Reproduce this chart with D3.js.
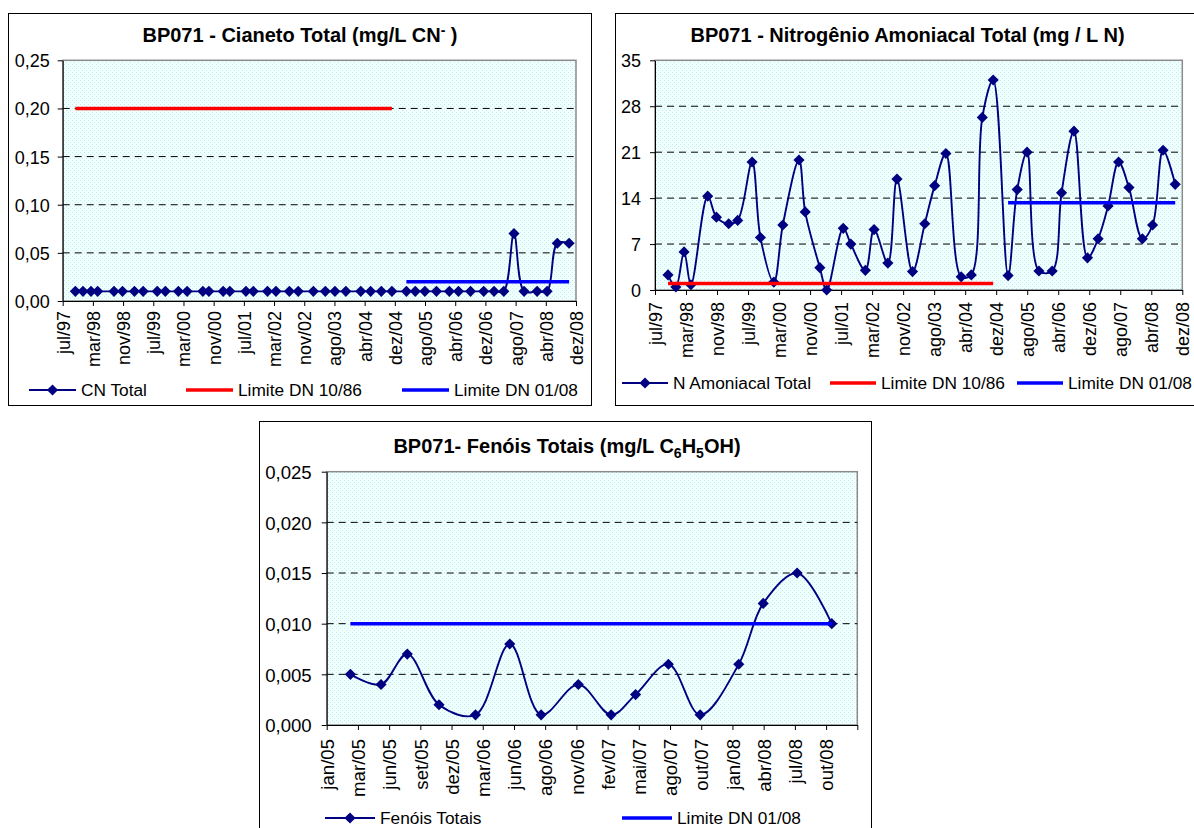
<!DOCTYPE html>
<html>
<head>
<meta charset="utf-8">
<script src="https://cdn.jsdelivr.net/npm/d3@7/dist/d3.min.js"></script>
<style>
  body { margin: 0; background: #ffffff; }
  svg { display: block; font-family: "Liberation Sans", Arial, sans-serif; }
</style>
</head>
<body>
<svg id="chart" width="1194" height="828"></svg>
<script>
"use strict";

/********/
/* data */
/********/

// sampling campaigns at BP071 (CN and N amoniacal share the dates)
const sampleDates = [
  "1997-10-12", "1997-12-13", "1998-02-16", "1998-04-11", "1998-08-22",
  "1998-10-30", "1999-02-04", "1999-04-16", "1999-08-08", "1999-10-13",
  "2000-01-27", "2000-04-07", "2000-08-13", "2000-10-01", "2001-01-25",
  "2001-03-20", "2001-07-29", "2001-09-27", "2002-01-20", "2002-03-30",
  "2002-07-17", "2002-09-27", "2003-01-28", "2003-05-05", "2003-07-22",
  "2003-10-19", "2004-02-17", "2004-05-07", "2004-08-02", "2004-10-27",
  "2005-02-22", "2005-05-05", "2005-07-22", "2005-10-24", "2006-02-06",
  "2006-04-21", "2006-07-28", "2006-11-12", "2007-02-04", "2007-04-24",
  "2007-07-16", "2007-10-06", "2008-01-20", "2008-04-10", "2008-07-02",
  "2008-10-06",
];

const cnTotal = [
  0.01, 0.01, 0.01, 0.01, 0.01, 0.01, 0.01, 0.01, 0.01, 0.01,
  0.01, 0.01, 0.01, 0.01, 0.01, 0.01, 0.01, 0.01, 0.01, 0.01,
  0.01, 0.01, 0.01, 0.01, 0.01, 0.01, 0.01, 0.01, 0.01, 0.01,
  0.01, 0.01, 0.01, 0.01, 0.01, 0.01, 0.01, 0.01, 0.01, 0.01,
  0.07, 0.01, 0.01, 0.01, 0.06, 0.06,
];

const nAmoniacal = [
  2.3, 0.45, 5.8, 0.8, 14.3, 11.1, 10.1, 10.6, 19.5, 8.0,
  1.2, 9.9, 19.8, 11.9, 3.4, 0.0, 9.4, 7.0, 3.0, 9.2,
  4.1, 16.9, 2.8, 10.1, 15.9, 20.8, 2.0, 2.3, 26.3, 32.0,
  2.2, 15.3, 21.0, 2.9, 2.9, 14.8, 24.2, 4.9, 7.8, 12.8,
  19.5, 15.6, 7.8, 9.9, 21.3, 16.1,
];

const fenolDates = [
  "2005-03-07", "2005-05-30", "2005-08-10", "2005-11-05", "2006-02-13",
  "2006-05-18", "2006-08-12", "2006-11-22", "2007-02-20", "2007-04-28",
  "2007-07-27", "2007-10-22", "2008-02-05", "2008-04-12", "2008-07-14",
  "2008-10-17",
];

const fenoisTotais = [
  0.005, 0.004, 0.007, 0.002, 0.001, 0.008, 0.001, 0.004,
  0.001, 0.003, 0.006, 0.001, 0.006, 0.012, 0.015, 0.010,
];

// legal limits
const cnLimit1086 = 0.2;
const cnLimit0108 = 0.02;
const nLimit1086 = 1.0;
const nLimit0108 = 13.3;
const fenolLimit0108 = 0.01;
// DN 10/86 covers the first 30 campaigns, DN 01/08 the rest
const limitSwitch = 30;

const longTickLabels = [
  "jul/97", "mar/98", "nov/98", "jul/99", "mar/00", "nov/00", "jul/01",
  "mar/02", "nov/02", "ago/03", "abr/04", "dez/04", "ago/05", "abr/06",
  "dez/06", "ago/07", "abr/08", "dez/08",
];
const fenolTickLabels = [
  "jan/05", "mar/05", "jun/05", "set/05", "dez/05", "mar/06", "jun/06",
  "ago/06", "nov/06", "fev/07", "mai/07", "ago/07", "out/07", "jan/08",
  "abr/08", "jul/08", "out/08", "",
];

const cnTicks = [0, 0.05, 0.1, 0.15, 0.2, 0.25];
const nTicks = [0, 7, 14, 21, 28, 35];
const fenolTicks = [0, 0.005, 0.01, 0.015, 0.02, 0.025];

/*********/
/* setup */
/*********/

const parseDate = d3.timeParse("%Y-%m-%d");
const ptBR = d3.formatLocale({
  decimal: ",",
  thousands: ".",
  grouping: [3],
  currency: ["R$ ", ""],
});

const NAVY = "#000080";
const RED = "#ff0000";
const BLUE = "#0000ff";
const FONT = "Liberation Sans, Arial, sans-serif";

const svg = d3.select("#chart");

const pattern = svg
  .append("defs")
  .append("pattern")
  .attr("id", "plot-bg")
  .attr("width", 4)
  .attr("height", 4)
  .attr("patternUnits", "userSpaceOnUse");
pattern.append("rect").attr("width", 4).attr("height", 4).attr("fill", "#f1ffff");
pattern.append("rect").attr("x", 0).attr("y", 0).attr("width", 1).attr("height", 1).attr("fill", "#bff0f0");
pattern.append("rect").attr("x", 2).attr("y", 2).attr("width", 1).attr("height", 1).attr("fill", "#bff0f0");

const diamond = d3.symbol(d3.symbolSquare, 62);

/********/
/* view */
/********/

function drawChart(cfg) {
  const [bx, by, bw, bh] = cfg.box;
  const [left, top, right, bottom] = cfg.plot;
  const g = svg.append("g");

  g.append("rect")
    .attr("x", bx)
    .attr("y", by)
    .attr("width", bw)
    .attr("height", bh)
    .attr("fill", "#ffffff")
    .attr("stroke", "#000000")
    .attr("stroke-width", 1);

  const x = d3
    .scaleTime()
    .domain([parseDate(cfg.xStart), parseDate(cfg.xEnd)])
    .range([left, right]);
  const y = d3
    .scaleLinear()
    .domain([0, d3.max(cfg.yTicks)])
    .range([bottom, top]);

  // plot area
  g.append("rect")
    .attr("x", left)
    .attr("y", top)
    .attr("width", right - left)
    .attr("height", bottom - top)
    .attr("fill", "url(#plot-bg)")
    .attr("stroke", "#8a8a8a")
    .attr("stroke-width", 1.5);

  g.append("g")
    .selectAll("line")
    .data(cfg.yTicks.slice(1, -1))
    .join("line")
    .attr("x1", left)
    .attr("x2", right)
    .attr("y1", d => y(d))
    .attr("y2", d => y(d))
    .attr("stroke", "#000000")
    .attr("stroke-width", 1)
    .attr("stroke-dasharray", "7,5");

  // axes
  const [d0, d1] = x.domain();
  const step = (d1 - d0) / (cfg.xLabels.length - 1);
  const tickDates = cfg.xLabels.map((_, i) => new Date(+d0 + i * step));

  const xAxis = g
    .append("g")
    .attr("transform", `translate(0,${bottom})`)
    .call(
      d3
        .axisBottom(x)
        .tickValues(tickDates)
        .tickSize(5)
        .tickSizeOuter(0)
        .tickFormat((d, i) => cfg.xLabels[i]),
    );
  xAxis
    .selectAll("text")
    .attr("transform", "rotate(-90)")
    .attr("x", -cfg.xLabelGap)
    .attr("y", 0)
    .attr("dy", "0.36em")
    .attr("text-anchor", "end");

  const yAxis = g
    .append("g")
    .attr("transform", `translate(${left},0)`)
    .call(
      d3
        .axisLeft(y)
        .tickValues(cfg.yTicks)
        .tickSize(5)
        .tickSizeOuter(0)
        .tickFormat(cfg.yFormat),
    );
  yAxis.selectAll("text").attr("x", -cfg.yLabelGap).attr("dy", "0.36em");

  [xAxis, yAxis].forEach(axis => {
    axis
      .attr("font-size", cfg.tickFont)
      .attr("font-family", FONT)
      .attr("color", "#000000");
  });

  // series
  const points = cfg.dates.map((d, i) => ({
    date: parseDate(d),
    value: cfg.values[i],
  }));

  const line = d3
    .line()
    .x(d => x(d.date))
    .y(d => y(d.value))
    .curve(d3.curveCatmullRom.alpha(0.5));

  g.append("path")
    .datum(points)
    .attr("d", line)
    .attr("fill", "none")
    .attr("stroke", NAVY)
    .attr("stroke-width", 1.9);

  g.append("g")
    .selectAll("path")
    .data(points)
    .join("path")
    .attr("d", diamond)
    .attr("transform", d => `translate(${x(d.date)},${y(d.value)}) rotate(45)`)
    .attr("fill", NAVY);

  const straight = d3
    .line()
    .x(d => x(d.date))
    .y(d => y(d.value));

  cfg.limits.forEach(limit => {
    const span = cfg.dates.slice(limit.from, limit.to).map(d => ({
      date: parseDate(d),
      value: limit.value,
    }));
    g.append("path")
      .datum(span)
      .attr("d", straight)
      .attr("fill", "none")
      .attr("stroke", limit.colour)
      .attr("stroke-width", 3.5);
  });

  // title
  const title = g
    .append("text")
    .attr("x", cfg.titleX)
    .attr("y", cfg.titleY)
    .attr("text-anchor", "middle")
    .attr("font-family", FONT)
    .attr("font-weight", "bold")
    .attr("font-size", 20);
  let shift = 0;
  cfg.title.forEach(part => {
    const target = part.sup ? -7 : part.sub ? 5 : 0;
    title
      .append("tspan")
      .attr("dy", target - shift)
      .attr("font-size", part.sup || part.sub ? 14 : null)
      .text(part.text);
    shift = target;
  });

  // legend
  const legend = g.append("g").attr("font-family", FONT).attr("font-size", 17.3);
  cfg.legend.items.forEach(item => {
    const ly = cfg.legend.y;
    legend
      .append("line")
      .attr("x1", item.x)
      .attr("x2", item.x + cfg.legend.len)
      .attr("y1", ly)
      .attr("y2", ly)
      .attr("stroke", item.colour)
      .attr("stroke-width", item.marker ? 1.9 : 3.5);
    if (item.marker) {
      legend
        .append("path")
        .attr("d", diamond)
        .attr("transform", `translate(${item.x + cfg.legend.len / 2},${ly}) rotate(45)`)
        .attr("fill", item.colour);
    }
    legend
      .append("text")
      .attr("x", item.x + cfg.legend.len + 5)
      .attr("y", ly + 6.3)
      .text(item.label);
  });
}

/********/
/* init */
/********/

drawChart({
  box: [8.5, 13.5, 583, 392],
  plot: [62.7, 60.3, 576, 301],
  xStart: "1997-07-01",
  xEnd: "2008-12-01",
  xLabels: longTickLabels,
  xLabelGap: 10,
  yLabelGap: 13,
  tickFont: 18,
  yTicks: cnTicks,
  yFormat: ptBR.format(".2f"),
  dates: sampleDates,
  values: cnTotal,
  limits: [
    { value: cnLimit1086, from: 0, to: limitSwitch, colour: RED },
    { value: cnLimit0108, from: limitSwitch, to: sampleDates.length, colour: BLUE },
  ],
  titleX: 300,
  titleY: 42,
  title: [{ text: "BP071 - Cianeto Total (mg/L CN" }, { text: "-", sup: true }, { text: " )" }],
  legend: {
    y: 390,
    len: 47,
    items: [
      { x: 29, colour: NAVY, marker: true, label: "CN Total" },
      { x: 186, colour: RED, label: "Limite DN 10/86" },
      { x: 402, colour: BLUE, label: "Limite DN 01/08" },
    ],
  },
});

drawChart({
  box: [615.5, 13.5, 600, 392],
  plot: [655, 60.3, 1182.3, 290],
  xStart: "1997-07-01",
  xEnd: "2008-12-01",
  xLabels: longTickLabels,
  xLabelGap: 12,
  yLabelGap: 14,
  tickFont: 18,
  yTicks: nTicks,
  yFormat: ptBR.format("d"),
  dates: sampleDates,
  values: nAmoniacal,
  limits: [
    { value: nLimit1086, from: 0, to: limitSwitch, colour: RED },
    { value: nLimit0108, from: limitSwitch, to: sampleDates.length, colour: BLUE },
  ],
  titleX: 907.5,
  titleY: 42,
  title: [{ text: "BP071 - Nitrogênio Amoniacal Total (mg / L N)" }],
  legend: {
    y: 383,
    len: 46,
    items: [
      { x: 622, colour: NAVY, marker: true, label: "N Amoniacal Total" },
      { x: 830, colour: RED, label: "Limite DN 10/86" },
      { x: 1017, colour: BLUE, label: "Limite DN 01/08" },
    ],
  },
});

drawChart({
  box: [259.5, 421.5, 612, 420],
  plot: [326.7, 471.7, 857.3, 725],
  xStart: "2005-01-01",
  xEnd: "2008-12-26",
  xLabels: fenolTickLabels,
  xLabelGap: 14,
  yLabelGap: 15,
  tickFont: 18.6,
  yTicks: fenolTicks,
  yFormat: ptBR.format(".3f"),
  dates: fenolDates,
  values: fenoisTotais,
  limits: [
    { value: fenolLimit0108, from: 0, to: fenolDates.length, colour: BLUE },
  ],
  titleX: 567,
  titleY: 453,
  title: [
    { text: "BP071- Fenóis Totais (mg/L C" },
    { text: "6", sub: true },
    { text: "H" },
    { text: "5", sub: true },
    { text: "OH)" },
  ],
  legend: {
    y: 818,
    len: 50,
    items: [
      { x: 325, colour: NAVY, marker: true, label: "Fenóis Totais" },
      { x: 622, colour: BLUE, label: "Limite DN 01/08" },
    ],
  },
});
</script>
</body>
</html>
